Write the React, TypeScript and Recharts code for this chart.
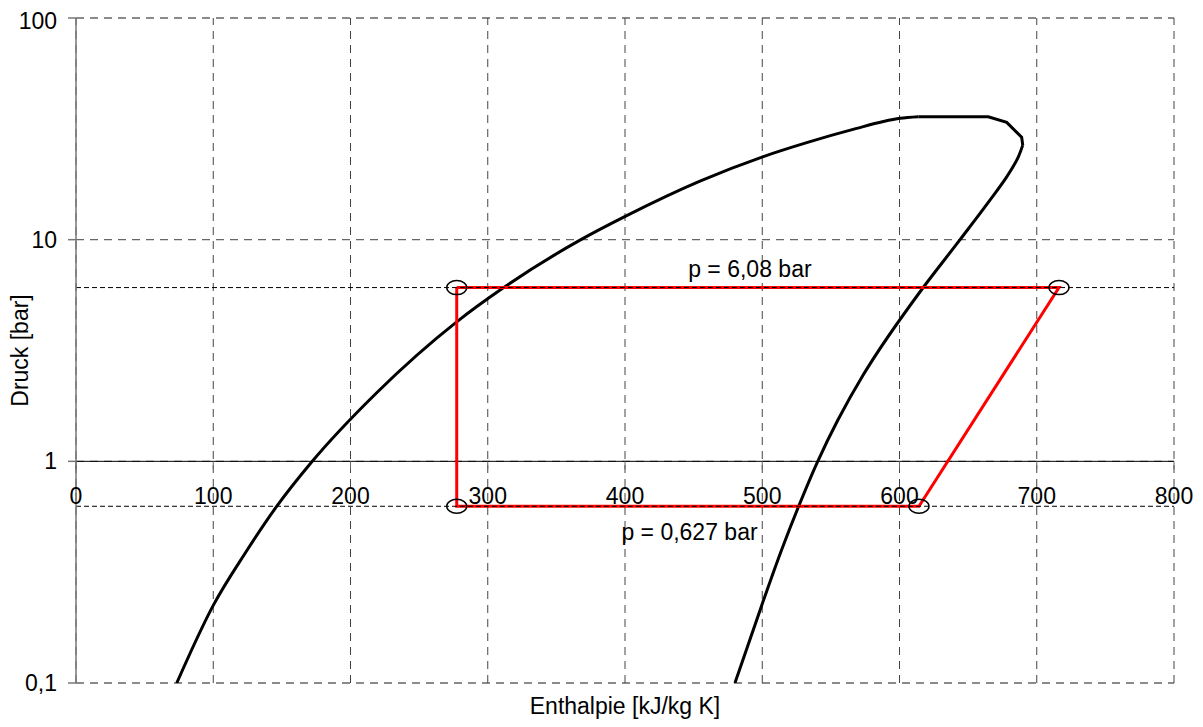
import React from 'react';
import {
  ComposedChart, Line, XAxis, YAxis, CartesianGrid, ReferenceLine, ReferenceDot, Scatter,
} from 'recharts';

// Saturation dome (enthalpy h [kJ/kg], pressure p [bar]) - liquid side
const domeLeftH = [73.4, 100, 123.1, 146.2, 171.7, 219.1, 277.4, 311.1, 367.2, 400.5, 454.6, 500.3, 532.4, 568.8, 588.2, 600.4, 613.7];
const domeLeftP = [0.1, 0.224, 0.384, 0.626, 0.993, 2.04, 4.26, 6.05, 9.95, 12.77, 18.37, 23.65, 27.4, 31.77, 34.1, 35.26, 35.85];
// Critical region (flat top)
const domeTopH = [613.7, 664.7, 678.1, 689.0, 689.8];
const domeTopP = [35.85, 35.85, 33.8, 29.0, 26.7];
// Vapour side
const domeRightH = [689.8, 686.6, 678.1, 665.9, 644.1, 616.2, 573.4, 555.0, 540.1, 526.3, 514.0, 500.9, 480.1];
const domeRightP = [26.7, 23.65, 19.2, 15.08, 10.0, 5.96, 2.445, 1.532, 0.99, 0.622, 0.397, 0.236, 0.1];

// Cycle (red)
const cycleH = [277.4, 277.4, 614.2, 716.2, 277.4];
const cycleP = [6.08, 0.627, 0.627, 6.08, 6.08];

// Marked state points
const markH = [277.4, 277.4, 614.2, 716.2];
const markP = [6.08, 0.627, 0.627, 6.08];

const pHigh = 6.08;
const pLow = 0.627;
const pHighLabel = 'p = 6,08 bar';
const pLowLabel = 'p = 0,627 bar';
const pHighLabelH = 491;
const pLowLabelH = 447;

const xTicks = [0, 100, 200, 300, 400, 500, 600, 700, 800];
const yTicks = [0.1, 1, 10, 100];
const xTitle = 'Enthalpie [kJ/kg K]';
const yTitle = 'Druck [bar]';

const zip = (hs: number[], ps: number[]) => hs.map((h, i) => ({ h, p: ps[i] }));
const domeLeft = zip(domeLeftH, domeLeftP);
const domeTop = zip(domeTopH, domeTopP);
const domeRight = zip(domeRightH, domeRightP);
const cycleData = zip(cycleH, cycleP);
const markData = zip(markH, markP);

const FONT = 'Liberation Sans, Arial, sans-serif';
const FS = 23;

const fmtY = (v: number) => String(v).replace('.', ',');

const Ellipse = (props: any) => {
  const { cx, cy } = props;
  if (cx == null || cy == null) return null;
  return <ellipse cx={cx} cy={cy} rx={10} ry={7} fill="none" stroke="#000" strokeWidth={1.5} />;
};

const TickMark = (props: any) => {
  const { cx, cy } = props;
  if (cx == null || cy == null) return null;
  return <line x1={cx} y1={cy} x2={cx} y2={cy + 8} stroke="#666" strokeWidth={1} />;
};

const Nothing = () => <g />;

export default function App() {
  return (
    <div style={{ fontFamily: FONT }}>
      <ComposedChart
        width={1187}
        height={711}
        margin={{ top: 10, right: 21, bottom: 0, left: 0 }}
        style={{ fontFamily: FONT }}
      >
        <CartesianGrid stroke="#666" strokeDasharray="8 6" strokeWidth={1.3} vertical={false} horizontalValues={yTicks} />
        {xTicks.map((t) => (
          <ReferenceLine key={'v' + t} x={t} stroke="#444" strokeWidth={1} strokeDasharray="8 6" />
        ))}
        <XAxis
          type="number"
          dataKey="h"
          domain={[0, 800]}
          ticks={xTicks}
          allowDataOverflow
          height={36}
          axisLine={false}
          tickLine={false}
          tick={false}
          label={{ value: xTitle, position: 'insideBottom', offset: 5, style: { fontSize: FS, fill: '#000', fontFamily: FONT } }}
        />
        <YAxis
          type="number"
          dataKey="p"
          scale="log"
          domain={[0.1, 100]}
          ticks={yTicks}
          allowDataOverflow
          width={68}
          tickFormatter={fmtY}
          tickSize={8}
          tickMargin={11}
          axisLine={{ stroke: '#777', strokeWidth: 1.5 }}
          tickLine={{ stroke: '#777', strokeWidth: 1.5 }}
          tick={{ fontSize: FS, fill: '#000', fontFamily: FONT }}
          label={{ value: yTitle, angle: -90, position: 'insideLeft', offset: 12, style: { fontSize: FS, fill: '#000', fontFamily: FONT, textAnchor: 'middle' } }}
        />
        <ReferenceLine y={1} stroke="#000" strokeWidth={1} />
        <Line data={domeLeft} dataKey="p" type="monotoneX" stroke="#000" strokeWidth={3} dot={false} isAnimationActive={false} />
        <Line data={domeTop} dataKey="p" type="linear" stroke="#000" strokeWidth={3} dot={false} isAnimationActive={false} />
        <Line data={domeRight} dataKey="p" type="monotoneY" stroke="#000" strokeWidth={3} dot={false} isAnimationActive={false} />
        <Line data={cycleData} dataKey="p" type="linear" stroke="#ff0000" strokeWidth={3} dot={false} isAnimationActive={false} />
        <ReferenceLine y={pHigh} stroke="#000" strokeWidth={1} strokeDasharray="5 3" />
        <ReferenceLine y={pLow} stroke="#000" strokeWidth={1} strokeDasharray="5 3" />
        <Scatter data={markData} dataKey="p" shape={<Ellipse />} isAnimationActive={false} />
        {xTicks.map((t) => (
          <ReferenceDot
            key={t}
            x={t}
            y={1}
            r={0}
            shape={<TickMark />}
            label={{ value: String(t), position: 'bottom', offset: 26, style: { fontSize: FS, fill: '#000', fontFamily: FONT } }}
          />
        ))}
        <ReferenceDot x={pHighLabelH} y={pHigh} r={0} shape={<Nothing />}
          label={{ value: pHighLabel, position: 'top', offset: 11, style: { fontSize: FS, fill: '#000', fontFamily: FONT } }} />
        <ReferenceDot x={pLowLabelH} y={pLow} r={0} shape={<Nothing />}
          label={{ value: pLowLabel, position: 'bottom', offset: 17, style: { fontSize: FS, fill: '#000', fontFamily: FONT } }} />
      </ComposedChart>
    </div>
  );
}
